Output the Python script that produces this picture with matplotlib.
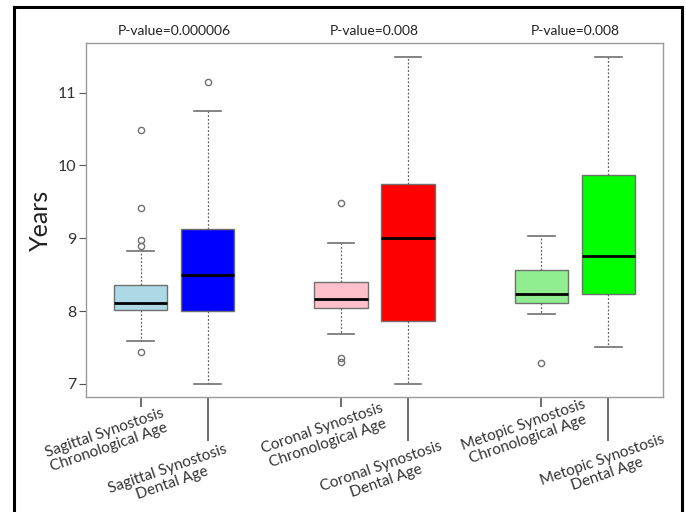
import numpy as np
import matplotlib
matplotlib.use("Agg")
import matplotlib.pyplot as plt
from matplotlib.lines import Line2D

plt.rcParams['font.family'] = ['Lato', 'DejaVu Sans']

# box statistics (years)
positions = [1, 2, 4, 5, 7, 8]
q1 = [8.02, 8.00, 8.04, 7.87, 8.11, 8.24]
med = [8.11, 8.49, 8.17, 9.00, 8.23, 8.75]
q3 = [8.36, 9.12, 8.40, 9.74, 8.56, 9.87]
whislo = [7.59, 7.00, 7.69, 7.00, 7.96, 7.50]
whishi = [8.83, 10.74, 8.94, 11.49, 9.03, 11.49]
fliers = [[10.49, 9.42, 8.97, 8.89, 7.44], [11.14], [9.49, 7.35, 7.30], [], [7.28], []]
colors = ['#ADD8E6', '#0000FF', '#FFC0CB', '#FF0000', '#90EE90', '#00FF00']

labels = ['Sagittal Synostosis\nChronological Age', 'Sagittal Synostosis\nDental Age',
          'Coronal Synostosis\nChronological Age', 'Coronal Synostosis\nDental Age',
          'Metopic Synostosis\nChronological Age', 'Metopic Synostosis\nDental Age']
pvalues = ['P-value=0.000006', 'P-value=0.008', 'P-value=0.008']

fig = plt.figure(figsize=(6.86, 5.12), dpi=100)
ax = fig.add_axes([86/686, 1-397/512, (663-86)/686, (397-43)/512])

stats = []
for i in range(6):
    stats.append(dict(med=med[i], q1=q1[i], q3=q3[i], whislo=whislo[i], whishi=whishi[i], fliers=fliers[i]))

bp = ax.bxp(stats, positions=positions, widths=0.8, patch_artist=True, showfliers=True,
            boxprops=dict(edgecolor='#707070', linewidth=1),
            medianprops=dict(color='black', linewidth=2),
            whiskerprops=dict(color='#606060', linewidth=0.9, linestyle=(0, (1.5, 1.5))),
            capprops=dict(color='#707070', linewidth=1.2),
            flierprops=dict(marker='o', markersize=4.5, markerfacecolor='none',
                            markeredgecolor='#707070', markeredgewidth=1))
for patch, c in zip(bp['boxes'], colors):
    patch.set_facecolor(c)
for cap in bp['caps']:
    xd = cap.get_xdata()
    m = (xd[0] + xd[1]) / 2
    cap.set_xdata([m - 0.2, m + 0.2])

ax.set_xlim(0.18, 8.82)
ax.set_ylim(6.82, 11.68)
ax.set_yticks([7, 8, 9, 10, 11])
ax.tick_params(axis='y', length=5, color='#555555', labelsize=11.5, labelcolor='#333333', pad=2)
for s in ax.spines.values():
    s.set_color('#9a9a9a')
    s.set_linewidth(1)
ax.set_ylabel('Years', fontsize=18, color='#222222', labelpad=4)

# short ticks for chronological, long ticks for dental
ax.set_xticks([1, 4, 7])
ax.set_xticks([2, 5, 8], minor=True)
ax.tick_params(axis='x', which='major', length=7.5, width=1.1, color='#444444', labelbottom=False)
ax.tick_params(axis='x', which='minor', length=32, width=1.1, color='#444444', labelbottom=False)

# label centre offsets from each tick, in pixels (right, down)
label_off = [(-34, 43), (-38, 79), (-16, 39), (-24, 77), (-16, 35), (-3, 70)]
for i, p in enumerate(positions):
    dx, dy = label_off[i]
    ax.annotate(labels[i], xy=(p, 0), xycoords=ax.get_xaxis_transform(),
                xytext=(dx*0.72, -dy*0.72), textcoords='offset points',
                rotation=19, ha='center', va='center', fontsize=11, color='#333333',
                linespacing=1.1, annotation_clip=False)

for k in range(3):
    ax.text((positions[2*k] + positions[2*k+1]) / 2, 1.035, pvalues[k],
            transform=ax.get_xaxis_transform(), ha='center', va='center',
            fontsize=10, color='#222222')

# outer frame (open at the bottom)
x0, x1, y1 = 14/686, 682/686, 1-7/512
fig.add_artist(Line2D([x0, x0], [0, y1], color='black', linewidth=2.2, transform=fig.transFigure))
fig.add_artist(Line2D([x0, x1], [y1, y1], color='black', linewidth=2.2, transform=fig.transFigure))
fig.add_artist(Line2D([x1, x1], [0, y1], color='black', linewidth=2.2, transform=fig.transFigure))

fig.savefig('out.png', dpi=100)
